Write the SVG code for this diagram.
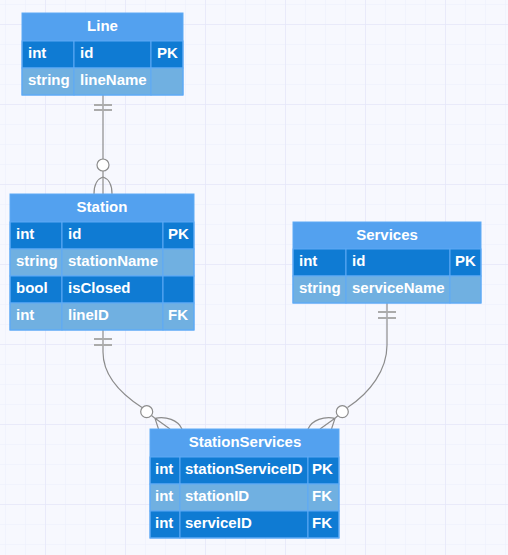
<svg xmlns="http://www.w3.org/2000/svg" width="508" height="555" viewBox="0 0 508 555">
  <defs>
    <pattern id="minor" width="20" height="20" patternUnits="userSpaceOnUse" x="5" y="4">
      <path d="M0 0H20M0 0V20" fill="none" stroke="#eceefb" stroke-width="1"/>
    </pattern>
    <pattern id="major" width="80" height="80" patternUnits="userSpaceOnUse" x="45" y="24">
      <path d="M0 0H80M0 0V80" fill="none" stroke="#e6e8f9" stroke-width="1.5"/>
    </pattern>
  </defs>
  <style>
    .hdr { fill: #53a1ef; }
    .dk { fill: #0f7bd3; }
    .lt { fill: #70b0e1; }
    .cell { stroke: #5eaaf5; stroke-width: 1; }
    .frame { fill: none; stroke: #5eaaf5; stroke-width: 1; }
    text { font-family: "Liberation Sans", Arial, sans-serif; font-weight: bold; font-size: 15px; fill: #ffffff; }
    .title { text-anchor: middle; }
    .wire { fill: none; stroke: #8c8c8c; stroke-width: 1.2; }
    .bar { fill: none; stroke: #ababab; stroke-width: 2; }
    .ring { fill: #ffffff; stroke: #8c8c8c; stroke-width: 1.2; }
  </style>

  <!-- background grid -->
  <rect width="508" height="555" fill="#f7f8fe"/>
  <rect width="508" height="555" fill="url(#minor)"/>
  <rect width="508" height="555" fill="url(#major)"/>

  <!-- relationships -->
  <g id="connectors">
    <!-- Line 1 — 0..n Station -->
    <path class="wire" d="M103 95V194"/>
    <path class="bar" d="M94 105H112M94 110H112"/>
    <circle class="ring" cx="103" cy="165" r="6"/>
    <path class="wire" d="M103 177C97 179 94 186 94 194M103 177C109 179 112 186 112 194"/>

    <!-- Station 1 — 0..n StationServices -->
    <path class="wire" d="M103 330V352C103 374 118 392 142 407.5"/>
    <path class="bar" d="M94 339H112M94 345H112"/>
    <circle class="ring" cx="146.7" cy="411.7" r="6"/>
    <path class="wire" d="M151.5 415.5L155 418.3L158.5 429M155 418.3L170 429M155 418.3C166 416 178 420 182 429"/>

    <!-- Services 1 — 0..n StationServices -->
    <path class="wire" d="M387 303V345C387 370 370 393 347.5 407.5"/>
    <path class="bar" d="M378 312H396M378 318H396"/>
    <circle class="ring" cx="342.3" cy="411.7" r="6"/>
    <path class="wire" d="M338 415.5L335 418.3L331.5 429M335 418.3L320 429M335 418.3C324 416 312 420 308 429"/>
  </g>

  <!-- Line -->
  <g id="node-line">
    <rect class="hdr" x="22" y="13" width="161" height="28"/>
    <rect class="dk cell" x="22" y="41" width="52" height="27"/>
    <rect class="dk cell" x="74" y="41" width="77" height="27"/>
    <rect class="dk cell" x="151" y="41" width="32" height="27"/>
    <rect class="lt cell" x="22" y="68" width="52" height="27"/>
    <rect class="lt cell" x="74" y="68" width="77" height="27"/>
    <rect class="lt cell" x="151" y="68" width="32" height="27"/>
    <rect class="frame" x="22" y="13" width="161" height="82"/>
    <text class="title" x="102.5" y="31">Line</text>
    <text x="28" y="58">int</text>
    <text x="80" y="58">id</text>
    <text x="157" y="58">PK</text>
    <text x="28" y="85">string</text>
    <text x="80" y="85">lineName</text>
  </g>

  <!-- Station -->
  <g id="node-station">
    <rect class="hdr" x="10" y="194" width="184" height="28"/>
    <rect class="dk cell" x="10" y="222" width="52" height="27"/>
    <rect class="dk cell" x="62" y="222" width="101" height="27"/>
    <rect class="dk cell" x="163" y="222" width="31" height="27"/>
    <rect class="lt cell" x="10" y="249" width="52" height="27"/>
    <rect class="lt cell" x="62" y="249" width="101" height="27"/>
    <rect class="lt cell" x="163" y="249" width="31" height="27"/>
    <rect class="dk cell" x="10" y="276" width="52" height="27"/>
    <rect class="dk cell" x="62" y="276" width="101" height="27"/>
    <rect class="dk cell" x="163" y="276" width="31" height="27"/>
    <rect class="lt cell" x="10" y="303" width="52" height="27"/>
    <rect class="lt cell" x="62" y="303" width="101" height="27"/>
    <rect class="lt cell" x="163" y="303" width="31" height="27"/>
    <rect class="frame" x="10" y="194" width="184" height="136"/>
    <text class="title" x="102" y="212">Station</text>
    <text x="16" y="239">int</text>
    <text x="68" y="239">id</text>
    <text x="168" y="239">PK</text>
    <text x="16" y="266">string</text>
    <text x="68" y="266">stationName</text>
    <text x="16" y="293">bool</text>
    <text x="68" y="293">isClosed</text>
    <text x="16" y="320">int</text>
    <text x="68" y="320">lineID</text>
    <text x="168" y="320">FK</text>
  </g>

  <!-- Services -->
  <g id="node-services">
    <rect class="hdr" x="293" y="222" width="188" height="27"/>
    <rect class="dk cell" x="293" y="249" width="53" height="27"/>
    <rect class="dk cell" x="346" y="249" width="104" height="27"/>
    <rect class="dk cell" x="450" y="249" width="31" height="27"/>
    <rect class="lt cell" x="293" y="276" width="53" height="27"/>
    <rect class="lt cell" x="346" y="276" width="104" height="27"/>
    <rect class="lt cell" x="450" y="276" width="31" height="27"/>
    <rect class="frame" x="293" y="222" width="188" height="81"/>
    <text class="title" x="387" y="240">Services</text>
    <text x="299" y="266">int</text>
    <text x="352" y="266">id</text>
    <text x="455" y="266">PK</text>
    <text x="299" y="293">string</text>
    <text x="352" y="293">serviceName</text>
  </g>

  <!-- StationServices -->
  <g id="node-stationservices">
    <rect class="hdr" x="150" y="429" width="189" height="28"/>
    <rect class="dk cell" x="150" y="457" width="30" height="27"/>
    <rect class="dk cell" x="180" y="457" width="128" height="27"/>
    <rect class="dk cell" x="308" y="457" width="31" height="27"/>
    <rect class="lt cell" x="150" y="484" width="30" height="27"/>
    <rect class="lt cell" x="180" y="484" width="128" height="27"/>
    <rect class="lt cell" x="308" y="484" width="31" height="27"/>
    <rect class="dk cell" x="150" y="511" width="30" height="27"/>
    <rect class="dk cell" x="180" y="511" width="128" height="27"/>
    <rect class="dk cell" x="308" y="511" width="31" height="27"/>
    <rect class="frame" x="150" y="429" width="189" height="109"/>
    <text class="title" x="245" y="447">StationServices</text>
    <text x="155" y="474">int</text>
    <text x="185" y="474">stationServiceID</text>
    <text x="312" y="474">PK</text>
    <text x="155" y="501">int</text>
    <text x="185" y="501">stationID</text>
    <text x="312" y="501">FK</text>
    <text x="155" y="528">int</text>
    <text x="185" y="528">serviceID</text>
    <text x="312" y="528">FK</text>
  </g>
</svg>
